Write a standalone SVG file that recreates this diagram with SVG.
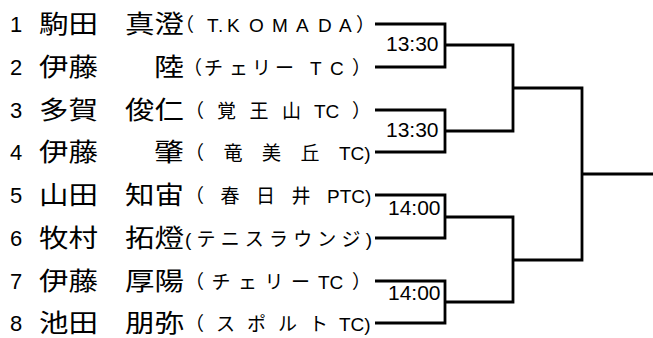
<svg xmlns="http://www.w3.org/2000/svg" width="653" height="338" viewBox="0 0 653 338">
<style>
.num{font-family:"Liberation Sans","Noto Sans CJK JP",sans-serif;font-size:22px;fill:#000}
.nm{font-family:"Noto Sans CJK JP",sans-serif;font-size:25px;fill:#000}
.af{font-family:"Liberation Sans","Noto Sans CJK JP",sans-serif;font-size:19px;fill:#000}
.tm{font-family:"Liberation Sans",Arial,sans-serif;font-size:21px;fill:#000}
.ln{fill:none;stroke:#000;stroke-width:2.8;stroke-linejoin:miter}
</style>
<rect width="653" height="338" fill="#fff"/>
<g id="p1">
<text class="num" x="10" y="32">1</text>
<text class="nm" x="39" y="33" textLength="59" lengthAdjust="spacingAndGlyphs">駒田</text>
<text class="nm" x="125" y="33" textLength="59" lengthAdjust="spacingAndGlyphs">真澄</text>
<text class="af" y="32"><tspan x="175">（</tspan><tspan x="207">T</tspan><tspan x="218">.</tspan><tspan x="227">K</tspan><tspan x="249">O</tspan><tspan x="272">M</tspan><tspan x="296">A</tspan><tspan x="318">D</tspan><tspan x="339">A</tspan><tspan x="356">）</tspan></text>
</g>
<g id="p2">
<text class="num" x="10" y="75">2</text>
<text class="nm" x="39" y="76" textLength="59" lengthAdjust="spacingAndGlyphs">伊藤</text>
<text class="nm" x="154" y="76" textLength="30" lengthAdjust="spacingAndGlyphs">陸</text>
<text class="af" y="75"><tspan x="183">（</tspan><tspan x="204">チ</tspan><tspan x="229">ェ</tspan><tspan x="252">リ</tspan><tspan x="275">ー</tspan><tspan x="310">T</tspan><tspan x="330">C</tspan><tspan x="352">）</tspan></text>
</g>
<g id="p3">
<text class="num" x="10" y="118">3</text>
<text class="nm" x="39" y="119" textLength="59" lengthAdjust="spacingAndGlyphs">多賀</text>
<text class="nm" x="125" y="119" textLength="59" lengthAdjust="spacingAndGlyphs">俊仁</text>
<text class="af" y="118"><tspan x="185">（</tspan><tspan x="217">覚</tspan><tspan x="249.5">王</tspan><tspan x="282">山</tspan><tspan x="314">TC</tspan><tspan x="352">）</tspan></text>
</g>
<g id="p4">
<text class="num" x="10" y="160">4</text>
<text class="nm" x="39" y="161" textLength="59" lengthAdjust="spacingAndGlyphs">伊藤</text>
<text class="nm" x="154" y="161" textLength="30" lengthAdjust="spacingAndGlyphs">肇</text>
<text class="af" y="160"><tspan x="185">（</tspan><tspan x="223.5">竜</tspan><tspan x="262">美</tspan><tspan x="300.5">丘</tspan><tspan x="339">TC)</tspan></text>
</g>
<g id="p5">
<text class="num" x="10" y="203">5</text>
<text class="nm" x="39" y="204" textLength="59" lengthAdjust="spacingAndGlyphs">山田</text>
<text class="nm" x="125" y="204" textLength="59" lengthAdjust="spacingAndGlyphs">知宙</text>
<text class="af" y="203"><tspan x="185">（</tspan><tspan x="220.5">春</tspan><tspan x="256">日</tspan><tspan x="291.5">井</tspan><tspan x="327">PTC)</tspan></text>
</g>
<g id="p6">
<text class="num" x="10" y="246">6</text>
<text class="nm" x="39" y="247" textLength="59" lengthAdjust="spacingAndGlyphs">牧村</text>
<text class="nm" x="125" y="247" textLength="59" lengthAdjust="spacingAndGlyphs">拓燈</text>
<text class="af" x="185" y="246" textLength="187" lengthAdjust="spacing">(テニスラウンジ)</text>
</g>
<g id="p7">
<text class="num" x="10" y="289">7</text>
<text class="nm" x="39" y="290" textLength="59" lengthAdjust="spacingAndGlyphs">伊藤</text>
<text class="nm" x="125" y="290" textLength="59" lengthAdjust="spacingAndGlyphs">厚陽</text>
<text class="af" y="289"><tspan x="185">（</tspan><tspan x="211.5">チ</tspan><tspan x="238">ェ</tspan><tspan x="264.5">リ</tspan><tspan x="291">ー</tspan><tspan x="318">TC</tspan><tspan x="352">）</tspan></text>
</g>
<g id="p8">
<text class="num" x="10" y="331">8</text>
<text class="nm" x="39" y="332" textLength="59" lengthAdjust="spacingAndGlyphs">池田</text>
<text class="nm" x="125" y="332" textLength="59" lengthAdjust="spacingAndGlyphs">朋弥</text>
<text class="af" y="331"><tspan x="185">（</tspan><tspan x="216">ス</tspan><tspan x="247">ポ</tspan><tspan x="278">ル</tspan><tspan x="309">ト</tspan><tspan x="339">TC)</tspan></text>
</g>
<g id="times">
<text class="tm" x="386" y="51">13:30</text>
<text class="tm" x="386" y="137">13:30</text>
<text class="tm" x="388" y="215">14:00</text>
<text class="tm" x="388" y="300">14:00</text>
</g>
<g id="connectors" class="ln">
<path class="ln" d="M375 24H445V67H375"/>
<path class="ln" d="M375 110H445V152H375"/>
<path class="ln" d="M375 195H445V238H375"/>
<path class="ln" d="M375 281H445V323H375"/>
<path class="ln" d="M445 45H513V131H445"/>
<path class="ln" d="M445 217H513V302H445"/>
<path class="ln" d="M513 88H582V260H513"/>
<path class="ln" d="M582 174H653"/>
</g>
</svg>
